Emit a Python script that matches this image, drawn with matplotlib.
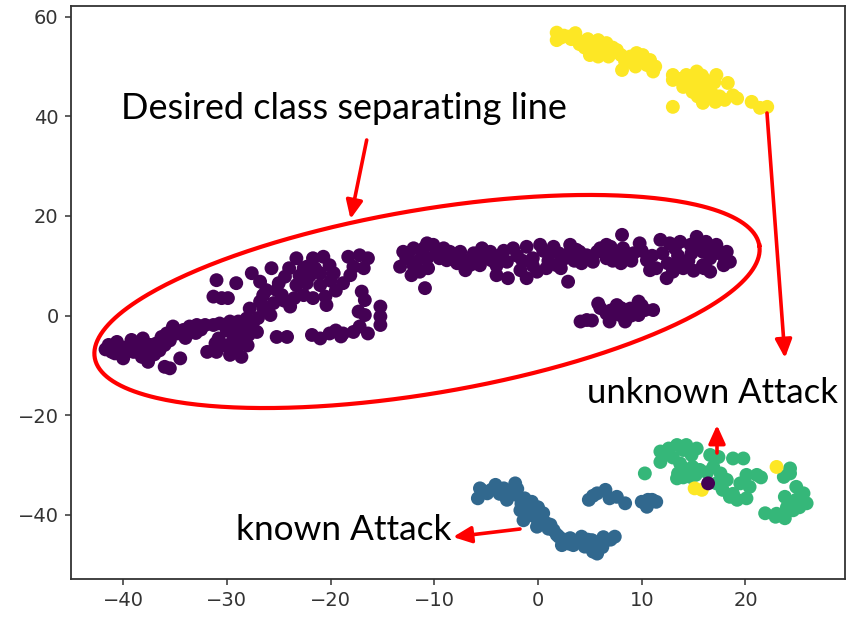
import matplotlib
matplotlib.use("Agg")
import matplotlib.pyplot as plt
import numpy as np

# ---------------- data (t-SNE embedding) ----------------
normal_pts = [
    (-41.7, -6.8), (-41.1, -7.3), (-41.4, -5.9), (-40.6, -5.3), (-40.8, -7.6), (-40.0, -6.6),
    (-40.0, -8.6), (-39.2, -4.9), (-39.0, -7.3), (-38.4, -5.9), (-38.1, -4.6), (-38.2, -8.3),
    (-37.6, -9.3), (-37.4, -5.9), (-36.8, -5.6), (-36.3, -4.3), (-35.8, -3.6), (-36.0, -5.9),
    (-35.2, -2.2), (-34.8, -3.6), (-34.2, -2.9), (-33.6, -2.2), (-32.9, -1.9), (-32.1, -1.9),
    (-31.3, -1.9), (-30.7, -1.6), (-29.7, -1.2), (-28.9, -1.2), (-28.1, -0.6), (-27.5, -1.6),
    (-27.1, -3.3), (-27.9, -3.9), (-28.7, -4.6), (-29.4, -4.9), (-29.1, -6.6), (-28.6, -8.3),
    (-29.7, -7.9), (-30.8, -4.6), (-31.1, -5.6), (-31.9, -7.3), (-31.0, -7.3), (-35.5, -10.6),
    (-36.0, -10.3), (-34.5, -8.6), (-27.8, 1.4), (-26.8, 2.8), (-26.5, 4.1), (-25.8, 0.1),
    (-25.2, -4.3), (-24.2, -4.3), (-31.0, 7.1), (-29.1, 6.5), (-31.3, 3.8), (-30.5, 3.5),
    (-29.9, 3.5), (-27.6, 8.5), (-26.8, 6.8), (-25.7, 9.5), (-24.4, 7.8), (-26.2, 5.1),
    (-25.2, 5.1), (-24.7, 4.1), (-23.9, 1.8), (-23.3, 11.5), (-22.6, 9.5), (-23.3, 6.1),
    (-22.6, 4.1),
    (-40.5, -6.0), (-39.5, -6.2), (-38.8, -6.8), (-37.8, -7.0), (-37.0, -7.8), (-36.5, -7.0),
    (-35.5, -5.0), (-34.0, -4.5), (-33.0, -3.5), (-32.5, -2.8),
    (-30.0, -3.0), (-29.0, -3.0), (-28.3, -2.5), (-30.2, -6.0), (-28.0, -6.0), (-27.0, -0.5),
    (-26.5, 1.5), (-25.5, 2.5), (-24.5, 3.0), (-23.5, 3.5), (-24.0, 9.5), (-22.0, 8.0),
    (-21.0, 8.5), (-20.0, 7.0), (-19.5, 5.0), (-23.0, 8.0), (-25.0, 6.5),
    (-19.5, -3.0), (-19.0, -4.2),
    (-22.3, 9.8), (-21.7, 11.5), (-20.7, 11.8), (-21.5, 9.5), (-22.3, 6.5), (-21.0, 6.1),
    (-20.5, 3.8), (-21.7, 3.5), (-20.4, 2.1), (-20.1, 10.1), (-19.7, 8.5), (-18.8, 6.5),
    (-18.3, 11.8), (-17.2, 12.1), (-16.4, 11.5), (-16.8, 9.5), (-17.8, 9.8), (-18.1, 8.1),
    (-17.0, 4.8), (-16.7, 3.1), (-17.3, 0.8), (-16.7, 0.1), (-15.2, 1.8), (-15.2, -0.2),
    (-15.2, -1.9), (-21.8, -3.9), (-21.0, -4.6), (-20.1, -3.6), (-18.8, -3.6), (-17.8, -3.3),
    (-17.2, -2.2), (-16.4, -3.6), (-13.0, 12.8), (-12.0, 13.5), (-10.7, 14.5), (-10.1, 14.2),
    (-9.1, 13.5), (-13.3, 9.8), (-12.7, 11.5), (-11.7, 10.8), (-10.7, 11.5), (-12.2, 8.1),
    (-11.4, 8.8), (-10.6, 9.5), (-8.8, 11.1), (-10.9, 5.5), (-7.5, 12.8), (-6.9, 11.1),
    (-6.2, 12.5), (-7.0, 9.1), (-5.6, 10.1), (-5.4, 13.5), (-4.6, 12.8), (-3.7, 12.1),
    (-2.4, 13.5), (-4.0, 8.1), (-2.9, 7.5), (-4.5, 11.1), (-3.0, 10.8),
    (-8.0, 12.0), (-9.5, 11.5), (-11.2, 12.8), (-12.0, 10.0), (-4.0, 10.0), (-6.0, 11.5),
    (-12.5, 12.5), (-11.0, 13.5), (-9.8, 12.5), (-8.5, 12.8), (-7.8, 10.5), (-6.5, 10.2),
    (-5.0, 11.8), (-3.3, 13.0), (-2.0, 12.0), (-1.5, 11.0), (-0.5, 10.0),
    (-1.1, 13.8), (0.2, 14.2), (1.2, 12.8), (-1.7, 9.1), (-1.1, 7.5), (-0.1, 8.8),
    (0.8, 9.5), (1.8, 10.1), (2.9, 6.8), (2.6, 11.5), (3.1, 14.2), (3.7, 13.2),
    (4.7, 12.1), (5.7, 12.8), (6.6, 14.2), (7.6, 12.8), (5.3, 10.8), (6.6, 11.5),
    (8.1, 16.2), (8.6, 12.1), (9.8, 14.5), (10.5, 11.1), (10.8, 9.1), (11.4, 9.5),
    (11.8, 15.2), (12.7, 14.5), (12.4, 7.5), (13.0, 8.8), (14.0, 9.5), (13.7, 14.8),
    (14.7, 14.2), (15.3, 15.8), (15.9, 12.8), (15.9, 10.1), (16.6, 8.8), (17.2, 14.2),
    (18.2, 12.8), (18.5, 10.8), (17.9, 10.1), (16.6, 11.5),
    (1.0, 11.0), (2.0, 12.5), (3.5, 11.0), (4.2, 10.5), (7.2, 11.0), (8.0, 10.5),
    (9.2, 12.5), (-0.5, 11.5), (12.0, 12.5), (13.5, 12.0), (14.5, 11.0), (17.5, 12.5),
    (0.5, 13.0), (1.5, 13.8), (2.2, 9.5), (3.0, 12.5), (4.0, 12.8), (5.0, 11.8),
    (6.0, 13.5), (7.0, 13.8), (8.2, 13.5), (9.0, 11.0), (10.0, 13.0), (11.0, 12.0),
    (12.5, 10.5), (13.2, 13.5), (14.8, 12.5), (15.5, 13.8), (16.2, 14.8), (17.0, 13.0),
    (18.0, 11.5), (16.0, 9.5), (15.0, 9.0), (13.5, 10.0),
    (5.8, 2.4), (4.1, -1.2), (4.7, -0.9), (6.6, 0.4), (6.9, -1.2), (7.6, 2.1),
    (7.9, 0.1), (8.4, -1.2), (8.9, 1.4), (9.7, 2.8), (9.7, 0.1), (10.3, 1.1), (11.1, 1.1),
    (6.0, 1.5), (7.0, 1.0), (8.0, 1.5), (9.0, 0.0), (10.0, 2.0), (5.2, -1.0),
]

known_pts = [
    (-5.6, -34.7), (-5.8, -36.7), (-4.9, -35.7), (-4.1, -34.0), (-3.3, -34.7), (-2.2, -33.7),
    (-3.0, -37.0), (-2.1, -36.0), (-1.3, -36.7), (-1.7, -39.1), (-1.1, -38.7), (-0.6, -37.4),
    (-1.4, -41.1), (-0.3, -40.4), (0.5, -39.7), (-0.1, -42.4), (0.8, -41.7), (1.5, -43.1),
    (2.0, -44.4), (2.3, -46.1), (3.1, -44.7), (3.4, -46.1), (4.2, -44.4), (4.5, -46.4),
    (5.3, -47.4), (5.2, -45.1), (6.0, -45.7), (6.6, -45.1), (7.4, -44.4), (5.7, -47.8),
    (-4.5, -35.0), (-2.5, -35.5), (-1.0, -37.8), (0.0, -38.5), (-0.8, -40.0), (1.0, -42.8),
    (2.5, -45.0), (4.0, -45.5), (5.5, -46.5), (7.0, -45.0),
    (-5.2, -35.3), (-3.7, -35.8), (-2.0, -34.8), (-1.6, -37.8), (-0.5, -39.0), (0.3, -41.0),
    (1.2, -42.0), (1.8, -44.0), (3.0, -45.8), (4.8, -45.0), (6.3, -44.5), (6.2, -46.5),
    (4.9, -37.0), (5.7, -35.7), (6.5, -35.0), (6.9, -36.7), (7.6, -36.4), (8.4, -37.7),
    (5.3, -36.2), (10.0, -37.4), (10.6, -37.0), (11.4, -37.4), (10.5, -38.4), (11.0, -37.0),
]

unknown_pts = [
    (10.3, -31.7), (11.8, -27.3), (11.8, -29.4), (12.6, -26.7), (13.4, -26.0), (14.3, -26.0),
    (15.3, -26.7), (13.7, -29.7), (13.5, -31.7), (13.4, -32.7), (14.3, -31.0), (14.9, -30.4),
    (14.7, -32.4), (15.6, -31.0), (16.6, -28.0), (17.4, -28.4), (16.9, -30.4), (17.6, -31.7),
    (17.2, -33.7), (17.8, -35.0), (18.5, -36.4), (19.2, -37.0), (20.1, -36.7), (18.8, -28.7),
    (19.8, -28.7), (18.2, -33.0), (19.5, -33.7), (20.1, -32.0), (21.1, -32.0), (20.4, -34.4),
    (21.9, -39.7), (22.9, -40.4), (23.8, -40.7), (24.6, -39.1), (24.9, -37.0), (25.9, -37.7),
    (25.6, -35.7), (24.9, -34.4), (24.3, -31.7), (24.3, -30.7), (23.7, -32.4), (23.8, -36.4),
    (12.2, -27.8), (13.0, -28.5), (14.0, -27.0), (14.8, -28.0), (14.0, -32.5), (15.2, -32.0),
    (16.3, -31.5), (18.8, -35.8), (21.5, -32.5), (25.3, -36.5), (24.0, -38.5), (25.2, -38.5),
    (23.0, -39.8),
]

attack_pts = [
    (1.8, 56.8), (1.8, 55.3), (3.6, 56.7), (4.1, 55.0), (5.0, 54.7), (5.8, 55.3),
    (6.6, 54.7), (5.0, 52.3), (5.8, 52.0), (7.6, 53.3), (8.1, 49.3), (8.9, 52.0),
    (9.5, 52.7), (10.1, 52.3), (9.4, 50.0), (10.5, 50.3), (11.3, 50.0), (11.1, 49.0),
    (2.5, 56.2), (3.2, 55.5), (4.5, 53.8), (5.4, 53.5), (6.2, 53.0), (7.0, 52.6),
    (8.4, 51.0), (9.9, 51.2),
    (2.2, 55.8), (3.0, 56.0), (4.0, 54.5), (4.8, 55.5), (6.0, 54.0), (7.2, 53.8),
    (6.8, 52.0), (8.0, 52.3), (9.0, 50.8), (10.8, 51.3),
    (13.0, 48.3), (13.0, 47.3), (14.3, 48.3), (15.3, 49.0), (14.9, 44.9), (14.0, 45.9),
    (15.6, 46.6), (16.3, 45.9), (17.2, 48.3), (18.3, 46.7), (16.6, 43.9), (15.9, 42.7),
    (17.1, 42.9), (18.0, 43.3), (19.2, 43.6), (20.6, 42.9), (22.1, 41.9), (13.0, 41.9),
    (21.4, 41.7), (14.6, 47.2), (15.0, 46.0), (16.0, 47.5), (16.8, 44.5), (15.4, 44.0),
    (13.6, 47.5), (14.2, 46.5), (15.8, 48.2), (16.4, 47.0), (15.2, 45.2), (16.0, 44.8),
    (17.5, 44.0), (17.0, 46.8), (18.8, 44.2),
]

# a few mixed points lying inside the unknown-attack cluster
stray_pts = [(15.1, -34.7), (15.8, -35.0), (23.0, -30.4)]
stray_labels = [3, 3, 3]
stray_normal = [(16.4, -33.7)]

groups = [(normal_pts, 0), (known_pts, 1), (unknown_pts, 2), (attack_pts, 3)]

xticks = [-40, -30, -20, -10, 0, 10, 20]
yticks = [-40, -20, 0, 20, 40, 60]

label_desired = "Desired class separating line"
label_unknown = "unknown Attack"
label_known = "known Attack"

# ---------------- figure ----------------
W, H = 846, 618
fig = plt.figure(figsize=(W / 100, H / 100), dpi=100)
ax = fig.add_axes([70.5 / W, 1 - 579 / H, (845 - 70.5) / W, (579 - 6) / H])

xs, ys, cs = [], [], []
for pts, lab in groups:
    for (x, y) in pts:
        xs.append(x); ys.append(y); cs.append(lab)
for (x, y), lab in zip(stray_pts, stray_labels):
    xs.append(x); ys.append(y); cs.append(lab)
for (x, y) in stray_normal:
    xs.append(x); ys.append(y); cs.append(0)

ax.scatter(xs, ys, c=cs, cmap="viridis", vmin=0, vmax=3, s=100, linewidths=0)

ax.set_xlim(-45.08, 29.6)
ax.set_ylim(-52.9, 62.15)
ax.set_xticks(xticks)
ax.set_yticks(yticks)
ax.tick_params(labelsize=14, length=4.5, width=1.1, pad=4, colors="#333333")
for sp in ax.spines.values():
    sp.set_linewidth(1.3)
    sp.set_color("#333333")

# ---------------- annotations (drawn in pixel geometry of the picture) ----------------
to_data = ax.transData.inverted()

def px2data(px, py):
    return to_data.transform(np.column_stack([px, H - np.asarray(py)]))

# red ellipse
t = np.linspace(0, 2 * np.pi, 400)
cx, cy, a, b, th = 427.0, 301.5, 337.0, 91.8, np.deg2rad(9.6)
ex = cx + a * np.cos(t) * np.cos(th) + b * np.sin(t) * np.sin(th)
ey = cy - a * np.cos(t) * np.sin(th) + b * np.sin(t) * np.cos(th)
ed = px2data(ex, ey)
ax.plot(ed[:, 0], ed[:, 1], color="red", lw=3.0, zorder=5, clip_on=False)

def arrow(x1, y1, x2, y2):
    ax.annotate("", xy=(x2, H - y2), xytext=(x1, H - y1),
                xycoords="figure pixels", textcoords="figure pixels",
                annotation_clip=False,
                arrowprops=dict(arrowstyle="-|>,head_length=1.1,head_width=0.5",
                                color="red", lw=2.6, shrinkA=0, shrinkB=0,
                                mutation_scale=10))

arrow(366.7, 140, 350.5, 219)
arrow(767, 113, 785, 358)
arrow(717, 453, 717, 425)
arrow(520, 529, 453, 537)

renderer = fig.canvas.get_renderer()

def fit_text(s, x0, base, width, size0=24):
    txt = fig.text(x0 / W, 1 - base / H, s, fontsize=size0, family="Lato",
                   ha="left", va="baseline", color="black", zorder=10)
    w = txt.get_window_extent(renderer).width
    txt.set_fontsize(size0 * width / w)
    return txt

fit_text(label_desired, 120.7, 119, 447)
fit_text(label_unknown, 586.7, 403.3, 251)
fit_text(label_known, 236, 540.5, 216)

fig.savefig("out.png", dpi=100)
